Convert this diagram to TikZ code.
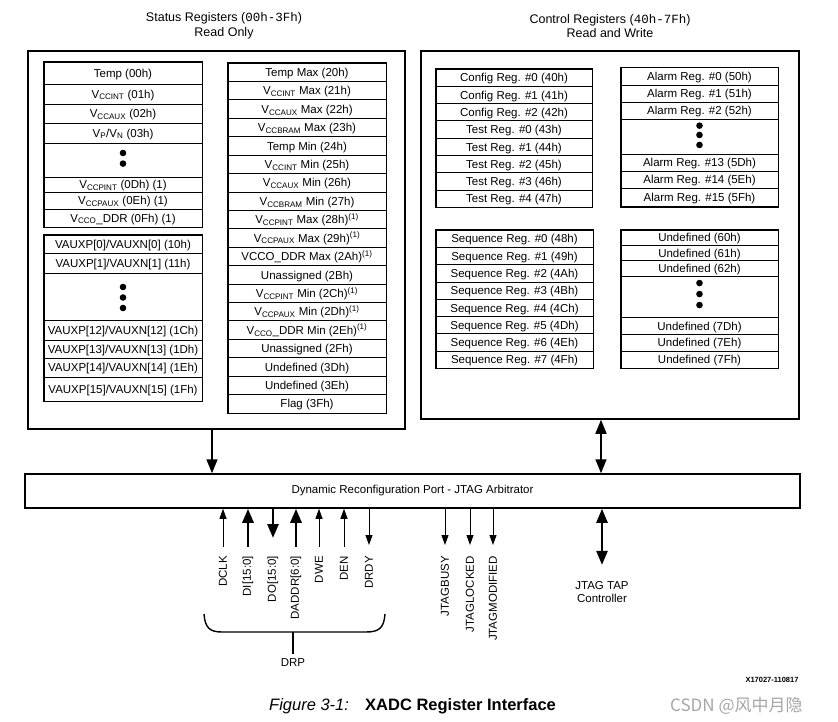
\documentclass[tikz,border=0pt]{standalone}
\usepackage{fontspec}
\setmainfont{Liberation Sans}
\setmonofont{Liberation Mono}
\newfontfamily\cjkfont{Noto Sans CJK SC}
\usetikzlibrary{arrows.meta,positioning,calc}

\newcommand{\vsub}[1]{V\textsubscript{#1}}
\newcommand{\regnote}{\textsuperscript{(1)}}
\newcommand{\regfont}{\fontsize{11.5}{13}\selectfont}

\tikzset{
  reg/.style={draw, line width=0.8pt, inner sep=0pt, font=\regfont, text height=9.6pt, text depth=1.2pt},
  frame/.style={draw, line width=1.5pt, inner sep=0pt},
  regframe/.style={line width=1.3pt},
  sig/.style={line width=1pt, -{Triangle[length=10pt,width=7pt]}},
  bus/.style={line width=2.8pt, -{Triangle[length=14pt,width=11pt]}},
  link/.style={line width=1.6pt, -{Triangle[length=14pt,width=11pt]}},
  duplex/.style={line width=1.6pt, {Triangle[length=14pt,width=11pt]}-{Triangle[length=14pt,width=11pt]}},
  pin/.style={rotate=90, anchor=east, inner sep=0pt, font=\regfont},
}

\begin{document}
\begin{tikzpicture}[x=1pt,y=-1pt]
\useasboundingbox (0,0) rectangle (838,722);

% Headers
\node[align=center, font=\fontsize{12.5}{14.5}\selectfont] (sthead) at (224,26) {Status Registers (\texttt{00h-3Fh})\\Read Only};
\node[align=center, font=\fontsize{12.5}{14.5}\selectfont] (cthead) at (610,26) {Control Registers (\texttt{40h-7Fh})\\Read and Write};

% Outer boxes
\node[frame, minimum width=377pt, minimum height=378pt] (status) at (216.5,240) {};
\node[frame, minimum width=378pt, minimum height=368pt] (ctrl) at (610,235) {};
\node[frame, minimum width=775pt, minimum height=34pt, font=\regfont] (drp) at (412.5,491) {Dynamic Reconfiguration Port - JTAG Arbitrator};

% Status registers, first column
\foreach \lbl/\ya/\yb [count=\i] in {
  Temp (00h)/62/84,
  \vsub{CCINT} (01h)/84/104,
  \vsub{CCAUX} (02h)/104/123,
  {\vsub{P}/\vsub{N} (03h)}/123/143,
  {}/143/177,
  \vsub{CCPINT} (0Dh) (1)/177/192,
  \vsub{CCPAUX} (0Eh) (1)/192/209,
  \vsub{CCO}\_DDR (0Fh) (1)/209/227}
  \node[reg, minimum width=158pt, minimum height={\yb pt-\ya pt}] (sa\i) at (123,{(\ya+\yb)/2}) {\lbl};
\draw[regframe] (sa1.north west) rectangle (sa8.south east);
\foreach \d in {7,-3.6}
  \fill ([yshift=\d pt]sa5.center) circle (3.3pt);

\foreach \lbl/\ya/\yb [count=\i] in {
  {VAUXP[0]/VAUXN[0] (10h)}/235/253,
  {VAUXP[1]/VAUXN[1] (11h)}/253/273,
  {}/273/320,
  {VAUXP[12]/VAUXN[12] (1Ch)}/320/340,
  {VAUXP[13]/VAUXN[13] (1Dh)}/340/358,
  {VAUXP[14]/VAUXN[14] (1Eh)}/358/377,
  {VAUXP[15]/VAUXN[15] (1Fh)}/377/401}
  \node[reg, minimum width=158pt, minimum height={\yb pt-\ya pt}] (sx\i) at (123,{(\ya+\yb)/2}) {\lbl};
\draw[regframe] (sx1.north west) rectangle (sx7.south east);
\foreach \d in {9.5,-1,-11.5}
  \fill ([yshift=\d pt]sx3.center) circle (3.3pt);

% Status registers, second column
\foreach \lbl [count=\i] in {
  Temp Max (20h), \vsub{CCINT} Max (21h), \vsub{CCAUX} Max (22h), \vsub{CCBRAM} Max (23h),
  Temp Min (24h), \vsub{CCINT} Min (25h), \vsub{CCAUX} Min (26h), \vsub{CCBRAM} Min (27h),
  \vsub{CCPINT} Max (28h)\regnote, \vsub{CCPAUX} Max (29h)\regnote, VCCO\_DDR Max (2Ah)\regnote,
  Unassigned (2Bh), \vsub{CCPINT} Min (2Ch)\regnote, \vsub{CCPAUX} Min (2Dh)\regnote,
  \vsub{CCO}\_DDR Min (2Eh)\regnote, Unassigned (2Fh), Undefined (3Dh), Undefined (3Eh), Flag (3Fh)}
  \node[reg, minimum width=158pt, minimum height=18.42pt] (sb\i) at (307,{63+(\i-0.5)*18.42}) {\lbl};
\draw[regframe] (sb1.north west) rectangle (sb19.south east);

% Control registers: config and test
\foreach \lbl [count=\i] in {
  Config Reg. \#0 (40h), Config Reg. \#1 (41h), Config Reg. \#2 (42h),
  Test Reg. \#0 (43h), Test Reg. \#1 (44h), Test Reg. \#2 (45h), Test Reg. \#3 (46h), Test Reg. \#4 (47h)}
  \node[reg, minimum width=156pt, minimum height=17.3pt] (cf\i) at (514,{69+(\i-0.5)*17.3}) {\lbl};
\draw[regframe] (cf1.north west) rectangle (cf8.south east);

% Alarm registers
\foreach \lbl/\ya/\yb [count=\i] in {
  Alarm Reg. \#0 (50h)/67.7/85,
  Alarm Reg. \#1 (51h)/85/102.3,
  Alarm Reg. \#2 (52h)/102.3/119.3,
  {}/119.3/154,
  Alarm Reg. \#13 (5Dh)/154/171,
  Alarm Reg. \#14 (5Eh)/171/188.3,
  Alarm Reg. \#15 (5Fh)/188.3/206.7}
  \node[reg, minimum width=157pt, minimum height={\yb pt-\ya pt}] (al\i) at (699.5,{(\ya+\yb)/2}) {\lbl};
\draw[regframe] (al1.north west) rectangle (al7.south east);
\foreach \d in {11,1.7,-8.3}
  \fill ([yshift=\d pt]al4.center) circle (3.3pt);

% Sequence registers
\foreach \lbl [count=\i] in {
  Sequence Reg. \#0 (48h), Sequence Reg. \#1 (49h), Sequence Reg. \#2 (4Ah), Sequence Reg. \#3 (4Bh),
  Sequence Reg. \#4 (4Ch), Sequence Reg. \#5 (4Dh), Sequence Reg. \#6 (4Eh), Sequence Reg. \#7 (4Fh)}
  \node[reg, minimum width=157pt, minimum height=17.3pt] (sq\i) at (514.5,{230+(\i-0.5)*17.3}) {\lbl};
\draw[regframe] (sq1.north west) rectangle (sq8.south east);

% Undefined registers
\foreach \lbl/\ya/\yb [count=\i] in {
  Undefined (60h)/230/245,
  Undefined (61h)/245/260.7,
  Undefined (62h)/260.7/276,
  {}/276/317.7,
  Undefined (7Dh)/317.7/334.3,
  Undefined (7Eh)/334.3/351,
  Undefined (7Fh)/351/368.3}
  \node[reg, minimum width=157pt, minimum height={\yb pt-\ya pt}] (ud\i) at (699.5,{(\ya+\yb)/2}) {\lbl};
\draw[regframe] (ud1.north west) rectangle (ud7.south east);
\foreach \d in {13.8,2.8,-8.2}
  \fill ([yshift=\d pt]ud4.center) circle (3.3pt);

% Register banks to the port
\draw[link] ([xshift=-4.5pt]status.south) -- ([xshift=-4.5pt]status.south |- drp.north);
\draw[duplex] ([xshift=-9pt]ctrl.south) -- ([xshift=-9pt]ctrl.south |- drp.north);

% DRP and JTAG pins
\node[pin] (dclk) at (223,556) {DCLK};
\node[pin] (din) at (248,556) {DI[15:0]};
\node[pin] (dout) at (273,556) {DO[15:0]};
\node[pin] (daddr) at (296,556) {DADDR[6:0]};
\node[pin] (dwe) at (319,556) {DWE};
\node[pin] (den) at (344,556) {DEN};
\node[pin] (drdy) at (369,556) {DRDY};
\node[pin] (jbusy) at (445,556) {JTAGBUSY};
\node[pin] (jlock) at (470,556) {JTAGLOCKED};
\node[pin] (jmod) at (493,556) {JTAGMODIFIED};

\draw[sig, shorten <=9pt] (dclk.east) -- (dclk.east |- drp.south);
\draw[bus, shorten <=9pt] (din.east) -- (din.east |- drp.south);
\draw[bus, shorten >=18pt] (dout.east |- drp.south) -- (dout.east);
\draw[bus, shorten <=9pt] (daddr.east) -- (daddr.east |- drp.south);
\draw[sig, shorten <=9pt] (dwe.east) -- (dwe.east |- drp.south);
\draw[sig, shorten <=9pt] (den.east) -- (den.east |- drp.south);
\draw[sig, shorten >=11pt] (drdy.east |- drp.south) -- (drdy.east);
\foreach \p in {jbusy,jlock,jmod}
  \draw[sig, shorten >=11pt] (\p.east |- drp.south) -- (\p.east);

% DRP brace
\node[font=\regfont] (drplbl) at (293,663) {DRP};
\draw[line width=1.4pt] (204,614) .. controls (205,628) and (210,632) .. (222,632) -- (366,632) .. controls (379,632) and (384,628) .. (385,614);
\draw[line width=2pt, shorten >=2pt] (drplbl.north |- 0,632) -- (drplbl.north);

% JTAG TAP
\node[align=center, font=\regfont] (tap) at (602,592) {JTAG TAP\\Controller};
\draw[duplex, line width=2.4pt, shorten >=13pt] (tap.north |- drp.south) -- (tap.north);

% Caption
\node[font=\fontsize{7.5}{9}\selectfont\bfseries] (figid) at (772,680) {X17027-110817};
\node[anchor=base west, inner sep=0pt, font=\fontsize{16.5}{20}\selectfont\itshape] (figno) at (269,710) {Figure 3-1:};
\node[anchor=base west, inner sep=0pt, font=\fontsize{16.5}{20}\selectfont\bfseries] (figtitle) at (365,710) {XADC Register Interface};
\node[anchor=base west, inner sep=0pt, text=black!35, font=\fontsize{17}{20}\selectfont\cjkfont] (mark) at (670,711) {CSDN @风中月隐};
\end{tikzpicture}
\end{document}
